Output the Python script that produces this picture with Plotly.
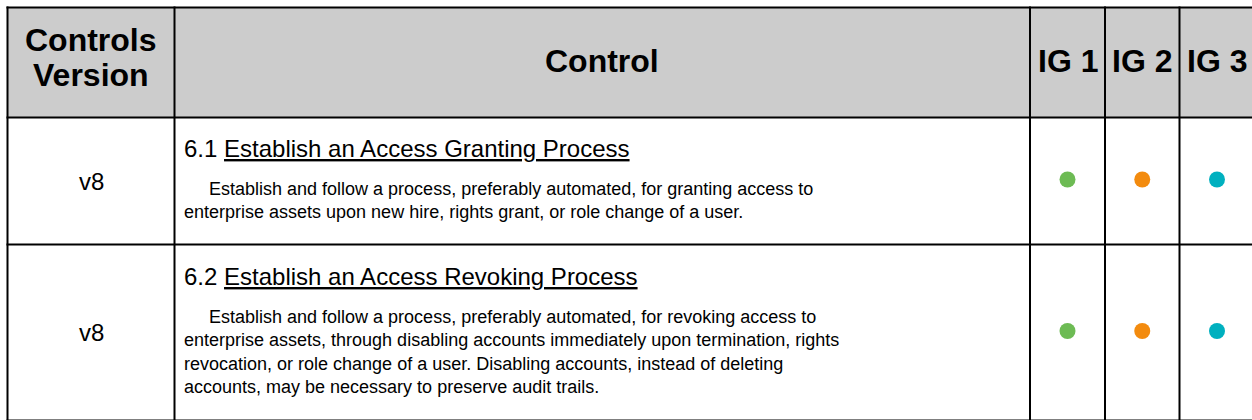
import plotly.graph_objects as go

# ---------------- data ----------------
header_labels = ["Controls<br>Version", "Control", "IG 1", "IG 2", "IG 3"]
versions = ["v8", "v8"]
control_ids = ["6.1", "6.2"]
control_titles = ["Establish an Access Granting Process",
                  "Establish an Access Revoking Process"]
control_desc_lines = [
    ["Establish and follow a process, preferably automated, for granting access to",
     "enterprise assets upon new hire, rights grant, or role change of a user."],
    ["Establish and follow a process, preferably automated, for revoking access to",
     "enterprise assets, through disabling accounts immediately upon termination, rights",
     "revocation, or role change of a user. Disabling accounts, instead of deleting",
     "accounts, may be necessary to preserve audit trails."],
]
ig1 = [True, True]
ig2 = [True, True]
ig3 = [True, True]
ig_colors = ["#6dbb54", "#f38b0e", "#00b0bf"]

# ---------------- layout (coordinates = page pixels) ----------------
FIG_W, FIG_H = 1252, 420
BODY_MARGIN = 8  # default body margin of the html page (removed by post_script if it runs)
col_edges = [7.5, 174.5, 1030, 1105, 1179.5, 1254.5]
row_edges = [7.5, 117.5, 244.5, 420.5]
FONT = "Liberation Sans, Arial, sans-serif"
LINE_W = 2

fig = go.Figure()
shapes = []
annotations = []

# header fill
shapes.append(dict(type="rect", xref="x", yref="y", x0=col_edges[0], x1=col_edges[-1],
                   y0=row_edges[0], y1=row_edges[1], fillcolor="#cccccc", line_width=0, layer="below"))
# grid lines
for y in row_edges:
    shapes.append(dict(type="line", xref="x", yref="y", x0=col_edges[0] - 1, x1=col_edges[-1] + 1,
                       y0=y, y1=y, line=dict(color="black", width=LINE_W)))
for x in col_edges:
    shapes.append(dict(type="line", xref="x", yref="y", x0=x, x1=x,
                       y0=row_edges[0] - 1, y1=row_edges[-1] + 1, line=dict(color="black", width=LINE_W)))

# header text
HEAD_FS = 32
for i, lab in enumerate(header_labels):
    cx = (col_edges[i] + col_edges[i + 1]) / 2
    parts = lab.split("<br>")
    if len(parts) == 1:
        ys = [61]
    else:
        ys = [40, 75]
    for part, yy in zip(parts, ys):
        annotations.append(dict(x=cx, y=yy, xref="x", yref="y", text="<b>" + part + "</b>",
                                showarrow=False, xanchor="center", yanchor="middle", align="center",
                                font=dict(family=FONT, size=HEAD_FS, color="black")))

# body rows
TITLE_FS = 24
DESC_FS = 18
DESC_LH = DESC_FS * 1.3
TITLE_GAP = 40
for r in range(len(versions)):
    y0, y1 = row_edges[r + 1], row_edges[r + 2]
    cy = (y0 + y1) / 2
    annotations.append(dict(x=(col_edges[0] + col_edges[1]) / 2, y=cy, xref="x", yref="y",
                            text=versions[r], showarrow=False, xanchor="center", yanchor="middle",
                            font=dict(family=FONT, size=24, color="black")))
    n = len(control_desc_lines[r])
    span = TITLE_GAP + DESC_LH * (n - 1)
    title_y = cy - 1 - span / 2
    desc_center = title_y + TITLE_GAP + DESC_LH * (n - 1) / 2
    annotations.append(dict(x=col_edges[1] + 7, y=title_y, xref="x", yref="y",
                            text=control_ids[r] + " <u>" + control_titles[r] + "</u>",
                            showarrow=False, xanchor="left", yanchor="middle", align="left",
                            font=dict(family=FONT, size=TITLE_FS, color="black")))
    lines = ["\u00a0" * 5 + control_desc_lines[r][0]] + control_desc_lines[r][1:]
    annotations.append(dict(x=col_edges[1] + 7, y=desc_center, xref="x", yref="y",
                            text="<br>".join(lines),
                            showarrow=False, xanchor="left", yanchor="middle", align="left",
                            font=dict(family=FONT, size=DESC_FS, color="black")))

# IG dots
for k, flags in enumerate([ig1, ig2, ig3]):
    cx = (col_edges[2 + k] + col_edges[3 + k]) / 2
    xs, ys = [], []
    for r, f in enumerate(flags):
        if f:
            xs.append(cx)
            ys.append((row_edges[r + 1] + row_edges[r + 2]) / 2 - 1.5)
    fig.add_trace(go.Scatter(x=xs, y=ys, mode="markers", hoverinfo="skip", showlegend=False,
                             marker=dict(size=16, color=ig_colors[k], line_width=0)))

fig.update_layout(
    width=FIG_W, height=FIG_H, margin=dict(l=0, r=0, t=0, b=0),
    paper_bgcolor="white", plot_bgcolor="white",
    xaxis=dict(range=[BODY_MARGIN, BODY_MARGIN + FIG_W], visible=False, fixedrange=True),
    yaxis=dict(range=[BODY_MARGIN + FIG_H, BODY_MARGIN], visible=False, fixedrange=True),
    shapes=shapes, annotations=annotations, showlegend=False,
)

post = (
    "document.documentElement.style.margin='0';"
    "document.body.style.margin='0';"
    "document.body.style.padding='0';"
    "document.documentElement.style.overflow='hidden';"
    "document.body.style.overflow='hidden';"
    "var gd=document.getElementById('{plot_id}');"
    f"Plotly.relayout(gd, {{'xaxis.range':[0,{FIG_W}], 'yaxis.range':[{FIG_H},0]}});"
)
fig.write_html(
    "out.html",
    config={"displayModeBar": False},
    default_width=f"{FIG_W}px",
    default_height=f"{FIG_H}px",
    post_script=post,
)
